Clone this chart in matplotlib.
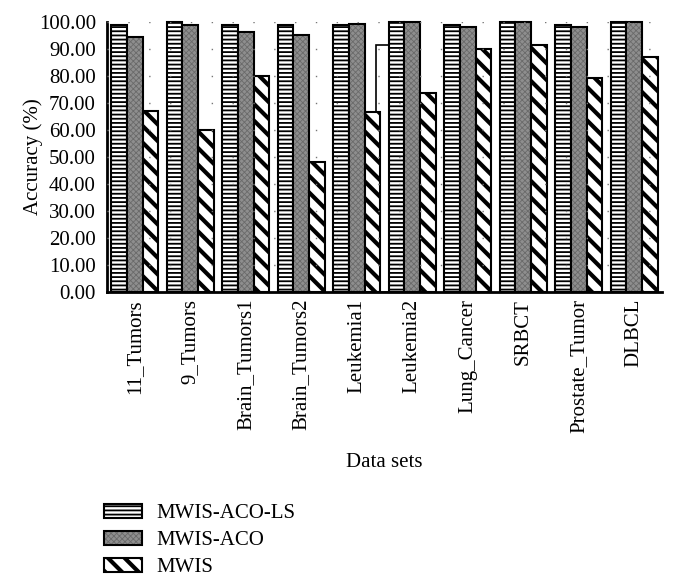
import numpy as np
import matplotlib.pyplot as plt
from matplotlib.patches import Patch
from matplotlib.legend_handler import HandlerTuple

plt.rcParams['font.family'] = ['Liberation Serif', 'DejaVu Serif']

datasets = ['11_Tumors', '9_Tumors', 'Brain_Tumors1', 'Brain_Tumors2', 'Leukemia1',
            'Leukemia2', 'Lung_Cancer', 'SRBCT', 'Prostate_Tumor', 'DLBCL']
mwis_aco_ls = [98.9, 100.0, 98.9, 98.9, 98.9, 100.0, 98.9, 100.0, 98.9, 100.0]
mwis_aco = [94.6, 98.9, 96.3, 95.3, 99.3, 100.0, 98.3, 100.0, 98.3, 100.0]
mwis = [67.1, 60.0, 79.9, 48.3, 66.5, 73.6, 90.0, 91.4, 79.4, 86.9]
# stray empty bar that shows up next to Leukemia1 in the original figure
stray_group = 4
stray_value = 91.6

HATCH_LW = {'----': 1.3, 'xxxxxx': 0.6, '\\\\': 3.0}


def hatch_lw(patches):
    # make sure each hatch gets its own width, whenever matplotlib reads it
    for p in patches:
        lw = HATCH_LW.get(p.get_hatch())
        if lw is None:
            continue
        if hasattr(p, 'set_hatch_linewidth'):
            p.set_hatch_linewidth(lw)
        p._hatch_linewidth = lw
        orig = p.draw

        def draw(renderer, orig=orig, lw=lw):
            with plt.rc_context({'hatch.linewidth': lw}):
                orig(renderer)
        p.draw = draw


fig = plt.figure(figsize=(6.75, 5.88), dpi=100)
ax = fig.add_axes([107 / 675, 1 - 292 / 588, 555 / 675, 270 / 588])

x = np.arange(len(datasets))
w = 0.28

ax.bar(x[stray_group] + 0.473, stray_value, 0.243, color='white',
       edgecolor='black', linewidth=1.2, zorder=1)

with plt.rc_context({'hatch.linewidth': HATCH_LW['----']}):
    b1 = ax.bar(x - w, mwis_aco_ls, w, color='white', edgecolor='black', hatch='----',
                linewidth=1.5, zorder=2, clip_on=False)
    h1 = Patch(facecolor='white', edgecolor='black', hatch='----', linewidth=1.5)
with plt.rc_context({'hatch.linewidth': HATCH_LW['xxxxxx']}):
    b2 = ax.bar(x, mwis_aco, w, color='#8e8e8e', edgecolor='#6a6a6a', hatch='xxxxxx',
                linewidth=0, zorder=2, clip_on=False)
    h2a = Patch(facecolor='#8e8e8e', edgecolor='#6a6a6a', hatch='xxxxxx', linewidth=0)
ax.bar(x, mwis_aco, w, color='none', edgecolor='black', linewidth=1.5, zorder=2,
       clip_on=False)
h2b = Patch(facecolor='none', edgecolor='black', linewidth=1.5)
with plt.rc_context({'hatch.linewidth': HATCH_LW['\\\\']}):
    b3 = ax.bar(x + w, mwis, w, color='white', edgecolor='black', hatch='\\\\',
                linewidth=1.5, zorder=2, clip_on=False)
    h3 = Patch(facecolor='white', edgecolor='black', hatch='\\\\', linewidth=1.5)
for b in (b1, b2, b3):
    hatch_lw(b)

ax.set_xlim(-0.5, 9.5)
ax.set_ylim(0, 100)
ax.set_yticks(np.arange(0, 101, 10))
ax.set_yticklabels([f'{v:.2f}' for v in np.arange(0, 101, 10)])
ax.set_xticks(x)
ax.set_xticklabels(datasets, rotation=90)
ax.tick_params(axis='both', length=0, labelsize=15)
ax.tick_params(axis='y', pad=8)
ax.tick_params(axis='x', pad=5)
for yv in np.arange(10, 101, 10):
    ax.axhline(yv, color='#777777', linestyle=(0, (1, 14)), linewidth=1, zorder=3)

for s in ['top', 'right']:
    ax.spines[s].set_visible(False)
ax.spines['left'].set_linewidth(2)
ax.spines['bottom'].set_linewidth(2)

ax.set_ylabel('Accuracy (%)', fontsize=15, labelpad=-3)
ax.set_xlabel('Data sets', fontsize=15, labelpad=14)

leg = fig.legend([h1, (h2a, h2b), h3], ['MWIS-ACO-LS', 'MWIS-ACO', 'MWIS'],
                 loc='upper left', bbox_to_anchor=(104 / 675, 1 - 504 / 588),
                 frameon=False, fontsize=15, handlelength=1.8, handleheight=0.68,
                 handletextpad=0.7, labelspacing=0.35, borderpad=0, borderaxespad=0,
                 handler_map={tuple: HandlerTuple(ndivide=1, pad=0)})
hatch_lw(leg.get_patches())

plt.savefig('out.png', dpi=100)
